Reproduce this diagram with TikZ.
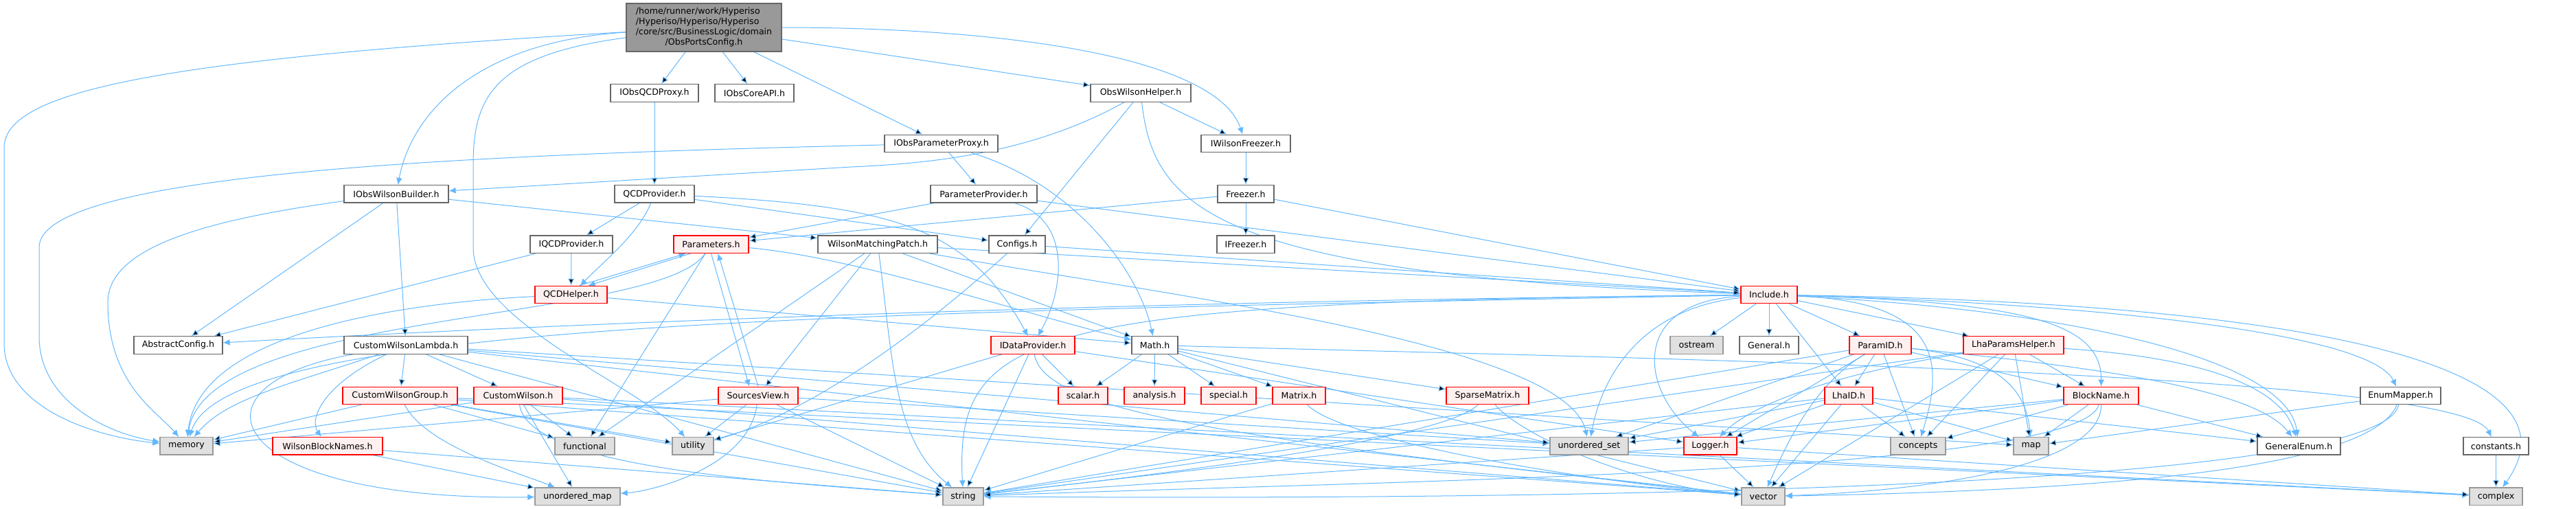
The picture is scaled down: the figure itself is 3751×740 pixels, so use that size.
\documentclass[tikz,border=0pt]{standalone}
\usepackage{fontspec}
\setmainfont{DejaVu Sans}
\usetikzlibrary{arrows.meta}
\pgfdeclarelayer{bg}
\pgfsetlayers{bg,main}
\definecolor{depblue}{HTML}{63B8FF}
\definecolor{truncfill}{HTML}{FFF0F0}
\definecolor{sysfill}{HTML}{E0E0E0}
\begin{document}
\begin{tikzpicture}[x=1pt,y=-1pt]
\tikzstyle{every node}=[font=\fontsize{12.6}{14.8}\selectfont, inner sep=0pt, minimum height=25.5, line width=1.2pt]
\tikzstyle{mainbox}=[draw=black!60, fill=black!40]
\tikzstyle{incbox}=[draw=black!60, fill=white]
\tikzstyle{redbox}=[draw=red, fill=truncfill]
\tikzstyle{sysbox}=[draw=black!40, fill=sysfill]
\tikzstyle{dep}=[draw=depblue, line width=1pt, -{Latex[length=10pt,width=9pt]}]
\useasboundingbox (0,0) rectangle (3751,740);

\node[mainbox, minimum width=226, minimum height=70] (main) at (1025,40)
  {\begin{tabular}{@{}l@{}}/home/runner/work/Hyperiso\\/Hyperiso/Hyperiso/Hyperiso\\/core/src/BusinessLogic/domain\\\multicolumn{1}{@{}c@{}}{/ObsPortsConfig.h}\end{tabular}};

\node[incbox, minimum width=128] (qcdproxy) at (953,135.5) {IObsQCDProxy.h};
\node[incbox, minimum width=115] (coreapi) at (1098.5,135.5) {IObsCoreAPI.h};
\node[incbox, minimum width=146] (wilsonhelper) at (1661,135.5) {ObsWilsonHelper.h};

\node[incbox, minimum width=165] (paramproxy) at (1370.5,208.9) {IObsParameterProxy.h};
\node[incbox, minimum width=130] (wilsonfreezer) at (1814,208.9) {IWilsonFreezer.h};

\node[incbox, minimum width=152] (wilsonbuilder) at (577,282.3) {IObsWilsonBuilder.h};
\node[incbox, minimum width=116] (qcdprovider) at (953,282.3) {QCDProvider.h};
\node[incbox, minimum width=155] (paramprovider) at (1432.5,282.3) {ParameterProvider.h};
\node[incbox, minimum width=82] (freezer) at (1814,282.3) {Freezer.h};

\node[incbox, minimum width=120] (iqcdprovider) at (832,355.7) {IQCDProvider.h};
\node[redbox, minimum width=109] (parameters) at (1035.5,355.7) {Parameters.h};
\node[incbox, minimum width=174] (matchpatch) at (1278,355.7) {WilsonMatchingPatch.h};
\node[incbox, minimum width=82] (configs) at (1481,355.7) {Configs.h};
\node[incbox, minimum width=84] (ifreezer) at (1814,355.7) {IFreezer.h};

\node[redbox, minimum width=105] (qcdhelper) at (831.5,429.1) {QCDHelper.h};
\node[redbox, minimum width=82] (include) at (2576,429.1) {Include.h};

\node[incbox, minimum width=129] (abstractconfig) at (259.5,502.5) {AbstractConfig.h};
\node[incbox, minimum width=180] (cwlambda) at (591,502.5) {CustomWilsonLambda.h};
\node[redbox, minimum width=122] (dataprovider) at (1504,502.5) {IDataProvider.h};
\node[incbox, minimum width=67] (math) at (1681.5,502.5) {Math.h};
\node[sysbox, minimum width=77] (ostream) at (2470.5,502.5) {ostream};
\node[incbox, minimum width=86] (general) at (2576,502.5) {General.h};
\node[redbox, minimum width=90] (paramid) at (2738,502.5) {ParamID.h};
\node[redbox, minimum width=146] (lhahelper) at (2932,502.5) {LhaParamsHelper.h};

\node[redbox, minimum width=167] (cwgroup) at (582.5,575.9) {CustomWilsonGroup.h};
\node[redbox, minimum width=129] (cwilson) at (754.5,575.9) {CustomWilson.h};
\node[redbox, minimum width=116] (sourcesview) at (1104,575.9) {SourcesView.h};
\node[redbox, minimum width=72] (scalar) at (1577,575.9) {scalar.h};
\node[redbox, minimum width=88] (analysis) at (1681,575.9) {analysis.h};
\node[redbox, minimum width=80] (special) at (1789,575.9) {special.h};
\node[redbox, minimum width=77] (matrix) at (1891.5,575.9) {Matrix.h};
\node[redbox, minimum width=120] (sparsematrix) at (2166,575.9) {SparseMatrix.h};
\node[redbox, minimum width=70] (lhaid) at (2692,575.9) {LhaID.h};
\node[redbox, minimum width=109] (blockname) at (3059.5,575.9) {BlockName.h};
\node[incbox, minimum width=117] (enummapper) at (3495.5,575.9) {EnumMapper.h};

\node[sysbox, minimum width=77] (memory) at (271.5,649.3) {memory};
\node[redbox, minimum width=160] (blocknames) at (477,649.3) {WilsonBlockNames.h};
\node[sysbox, minimum width=87] (functional) at (851.5,649.3) {functional};
\node[sysbox, minimum width=60] (utility) at (1009,649.3) {utility};
\node[sysbox, minimum width=114] (uset) at (2314,649.3) {unordered\_set};
\node[redbox, minimum width=77] (logger) at (2490.5,649.3) {Logger.h};
\node[sysbox, minimum width=80] (concepts) at (2793,649.3) {concepts};
\node[sysbox, minimum width=51] (map) at (2957.5,649.3) {map};
\node[incbox, minimum width=121] (generalenum) at (3347.5,649.3) {GeneralEnum.h};
\node[incbox, minimum width=95] (constants) at (3634.5,649.3) {constants.h};

\node[sysbox, minimum width=124] (umap) at (841,722.7) {unordered\_map};
\node[sysbox, minimum width=59] (string) at (1402.5,722.7) {string};
\node[sysbox, minimum width=63] (vector) at (2567.5,722.7) {vector};
\node[sysbox, minimum width=77] (complex) at (3634.5,722.7) {complex};

\begin{pgfonlayer}{bg}
\draw[dep] (main) edge (qcdproxy) edge (coreapi) edge (wilsonhelper) edge (paramproxy);
\draw[dep] (main) .. controls (1450,40) and (1770,80) .. (wilsonfreezer);
\draw[dep] (main) .. controls (700,60) and (600,160) .. (wilsonbuilder);
\draw[dep] (main) .. controls (250,85) and (6,130) .. (6,215) -- (6,500) .. controls (6,590) and (130,635) .. (memory);
\draw[dep] (main) .. controls (720,80) and (689,140) .. (689,240) -- (689,360) .. controls (689,470) and (930,560) .. (utility);

\draw[dep] (qcdproxy) edge (qcdprovider);
\draw[dep] (wilsonhelper) edge (wilsonfreezer) edge (configs);
\draw[dep] (wilsonhelper) .. controls (1500,225) and (1350,238) .. (1240,243) -- (wilsonbuilder);
\draw[dep] (wilsonhelper) .. controls (1680,300) and (1760,400) .. (include);
\draw[dep] (paramproxy) edge (paramprovider);
\draw[dep] (paramproxy) .. controls (700,225) and (57,250) .. (57,360) -- (57,490) .. controls (57,580) and (150,630) .. (memory);
\draw[dep] (paramproxy) .. controls (1570,270) and (1660,400) .. (math);
\draw[dep] (wilsonfreezer) edge (freezer);
\draw[dep] (freezer) edge (ifreezer) edge (parameters) edge (include);

\draw[dep] (wilsonbuilder) edge (abstractconfig) edge (cwlambda) edge (matchpatch);
\draw[dep] (wilsonbuilder) .. controls (300,320) and (157,360) .. (157,440) .. controls (157,560) and (230,600) .. (memory);
\draw[dep] (qcdprovider) edge (iqcdprovider) edge (configs);
\draw[dep] (qcdprovider) .. controls (930,340) and (880,380) .. (qcdhelper);
\draw[dep] (qcdprovider) .. controls (1300,300) and (1410,330) .. (dataprovider);
\draw[dep] (paramprovider) edge (parameters) edge (include);
\draw[dep] (paramprovider) .. controls (1560,320) and (1550,420) .. (dataprovider);
\draw[dep] (iqcdprovider) edge (qcdhelper) edge (abstractconfig);

\draw[dep] ([xshift=-30]parameters.south) -- ([xshift=25]qcdhelper.north);
\draw[dep] ([xshift=12]qcdhelper.north) -- ([xshift=-37]parameters.south);
\draw[dep] (parameters.south) -- ([xshift=-13]sourcesview.north);
\draw[dep] (sourcesview.north) -- ([xshift=10]parameters.south);
\draw[dep] (parameters) edge (functional);
\draw[dep] (parameters) .. controls (960,470) and (300,450) .. (memory);
\draw[dep] (parameters) .. controls (1250,375) and (1500,460) .. (math);
\draw[dep] (qcdhelper) edge (math);
\draw[dep] (qcdhelper) .. controls (600,440) and (290,480) .. (memory);

\draw[dep] (matchpatch) edge (sourcesview) edge (functional) edge (math) edge (include);
\draw[dep] (matchpatch) .. controls (1300,520) and (1300,640) .. (string);
\draw[dep] (matchpatch) .. controls (1700,430) and (2280,500) .. (uset);
\draw[dep] (configs) edge (include);
\draw[dep] (configs) .. controls (1300,520) and (1150,610) .. (utility);

\draw[dep] (sourcesview) edge (utility) edge (memory) edge (string) edge (uset);
\draw[dep] (sourcesview) .. controls (1090,680) and (950,715) .. (umap);
\draw[dep] (dataprovider) edge (scalar) edge (string) edge (utility) edge (logger);
\draw[dep] (dataprovider) .. controls (1520,600) and (1800,640) .. (vector);
\draw[dep] (math) edge (scalar) edge (analysis) edge (special) edge (matrix) edge (sparsematrix) edge (vector);
\draw[dep] (math) .. controls (2300,520) and (3580,540) .. (constants);
\draw[dep] (matrix) edge (string);
\draw[dep] (matrix) .. controls (1950,640) and (2300,700) .. (vector);
\draw[dep] (sparsematrix) .. controls (2100,640) and (1700,690) .. (string);
\draw[dep] (sparsematrix) .. controls (2220,640) and (2400,710) .. (vector);

\draw[dep] (cwlambda) edge (cwgroup) edge (cwilson) edge (string) edge (uset) edge (map) edge (vector);
\draw[dep] (cwlambda) .. controls (470,560) and (450,610) .. (blocknames);
\draw[dep] (cwlambda) .. controls (420,560) and (330,580) .. (memory);
\draw[dep] (cwlambda) .. controls (260,560) and (320,730) .. (umap);
\draw[dep] (cwgroup) edge (memory) edge (functional) edge (utility) edge (string) edge (vector) edge (complex);
\draw[dep] (cwgroup) .. controls (620,650) and (760,690) .. (umap);
\draw[dep] (cwilson) edge (functional) edge (umap) edge (vector) edge (complex) edge (memory);
\draw[dep] (cwilson) .. controls (770,680) and (1100,700) .. (string);
\draw[dep] (blocknames) edge (string) edge (umap);

\draw[dep] (include) edge (ostream) edge (general) edge (paramid) edge (lhahelper) edge (lhaid);
\draw[dep] (include) .. controls (2950,440) and (3060,470) .. (blockname);
\draw[dep] (include) .. controls (2830,440) and (2830,530) .. (concepts);
\draw[dep] (include) .. controls (3000,440) and (3450,480) .. (enummapper);
\draw[dep] (include) .. controls (3000,450) and (3330,520) .. (generalenum);
\draw[dep] (include) .. controls (3300,440) and (3780,520) .. (complex);
\draw[dep] (include) .. controls (2370,440) and (2390,570) .. (logger);
\draw[dep] (include) .. controls (2380,450) and (2330,560) .. (uset);
\draw[dep] (include) .. controls (1500,440) and (1390,480) .. (string);
\draw[dep] (include) .. controls (1200,455) and (330,470) .. (memory);
\draw[dep] (include) .. controls (1500,440) and (700,478) .. (abstractconfig);

\draw[dep] (paramid) edge (lhaid) edge (logger) edge (concepts) edge (blockname) edge (string) edge (uset);
\draw[dep] (paramid) .. controls (2640,560) and (2600,650) .. (vector);
\draw[dep] (paramid) .. controls (2900,520) and (2950,560) .. (map);
\draw[dep] (paramid) .. controls (3000,530) and (3280,560) .. (generalenum);
\draw[dep] (lhahelper) edge (blockname) edge (concepts) edge (map) edge (vector) edge (string);
\draw[dep] (lhahelper) .. controls (2700,540) and (2560,580) .. (logger);
\draw[dep] (lhahelper) .. controls (3200,520) and (3320,560) .. (generalenum);
\draw[dep] (lhaid) edge (logger) edge (concepts) edge (map) edge (vector) edge (string) edge (uset) edge (generalenum);
\draw[dep] (blockname) edge (concepts) edge (map) edge (generalenum) edge (uset) edge (logger);
\draw[dep] (blockname) .. controls (3060,680) and (2800,715) .. (vector);
\draw[dep] (blockname) .. controls (3030,690) and (2000,700) .. (string);
\draw[dep] (enummapper) edge (map);
\draw[dep] (enummapper) .. controls (3450,690) and (3000,715) .. (vector);
\draw[dep] (enummapper) .. controls (3470,700) and (2500,730) .. (string);
\draw[dep] (logger) edge (vector) edge (string) edge (complex);
\draw[dep] (constants) edge (complex);
\end{pgfonlayer}
\end{tikzpicture}
\end{document}
